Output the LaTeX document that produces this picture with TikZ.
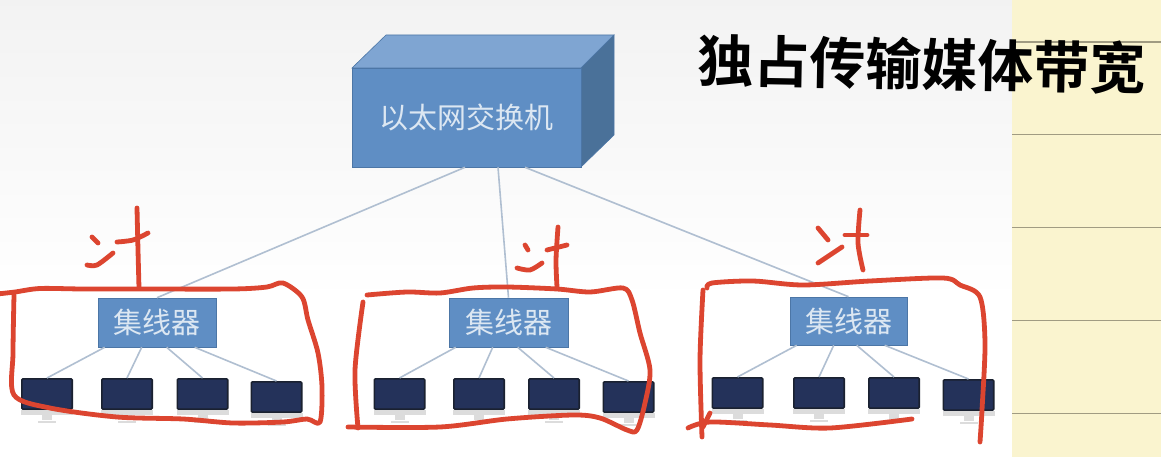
\documentclass[tikz,border=0pt]{standalone}
\usepackage{fontspec}
\setmainfont{Noto Sans CJK SC}
\newfontfamily\cjkbold[BoldFont={Noto Sans CJK SC}]{Noto Sans CJK SC Bold}
\usetikzlibrary{calc}
\definecolor{paperc}{HTML}{FAF4CF}
\definecolor{ruleline}{HTML}{A09B82}
\definecolor{redink}{HTML}{DC4530}
\definecolor{boxfront}{HTML}{5F8EC4}
\definecolor{boxtop}{HTML}{7FA5D2}
\definecolor{boxside}{HTML}{4A7199}
\definecolor{boxedge}{HTML}{4C76A6}
\definecolor{wire}{HTML}{B0BFD1}
\definecolor{screenc}{HTML}{24325A}
\definecolor{screenb}{HTML}{1A2130}
\definecolor{silverc}{HTML}{DCDCDC}
\definecolor{labelc}{HTML}{DCE7F2}
\tikzset{
  x=1pt,y=-1pt,
  hubbox/.style={draw=boxedge,line width=0.6pt,fill=boxfront,text=labelc,inner sep=0pt,font=\fontsize{29}{29}\selectfont},
  screenbox/.style={draw=screenb,line width=1.6pt,fill=screenc,rounded corners=1.2pt,minimum width=50.4pt,minimum height=30.4pt,inner sep=0pt,anchor=north west},
  wireline/.style={draw=wire,line width=1.6pt},
  redstroke/.style={draw=redink,line width=4.8pt,line cap=round,line join=round},
  rulestroke/.style={draw=ruleline,line width=1.2pt}
}
\newcommand{\monitorat}[3]{%
  \node[screenbox] (#1) at (#2,#3) {};
  \fill[silverc] (#1.south west) rectangle ([yshift=-5pt]#1.south east);
  \fill[silverc] ([xshift=-5pt,yshift=-5pt]#1.south) rectangle ([xshift=5pt,yshift=-10pt]#1.south);
  \fill[silverc] ([xshift=-9pt,yshift=-11pt]#1.south) rectangle ([xshift=9pt,yshift=-13pt]#1.south);
}
\newcommand{\redcurve}[1]{\draw[redstroke] plot[smooth,tension=0.5] coordinates {#1};}
\begin{document}
\begin{tikzpicture}
\useasboundingbox (0,0) rectangle (1161,457);
% backgrounds
\fill[white] (0,0) rectangle (1161,457);
\shade[top color=black!5,middle color=black!4,bottom color=white] (0,0) rectangle (1012,300);
\fill[paperc] (1012,0) rectangle (1161,457);
\foreach \yy in {42,134.7,227.5,320.5,413.5}{\draw[rulestroke] (1012,\yy) -- (1161,\yy);}
% switch
\fill[boxtop,draw=boxedge,line width=0.6pt] (352,68) -- (386,35) -- (614,35) -- (581,68) -- cycle;
\fill[boxside,draw=boxedge,line width=0.6pt] (581,68) -- (614,35) -- (614,135) -- (581,167) -- cycle;
\node[hubbox,minimum width=229pt,minimum height=99pt] (sw) at (466.5,117.5) {以太网交换机};
% hubs
\node[hubbox,minimum width=118pt,minimum height=49pt] (h1) at (157,322.5) {集线器};
\node[hubbox,minimum width=119pt,minimum height=49pt] (h2) at (508.5,322.5) {集线器};
\node[hubbox,minimum width=117pt,minimum height=48pt] (h3) at (848.5,321) {集线器};
% monitors
\monitorat{a1}{21}{378}\monitorat{a2}{101}{378}\monitorat{a3}{176.5}{378}\monitorat{a4}{250.5}{381}
\monitorat{b1}{373.5}{378}\monitorat{b2}{453}{378}\monitorat{b3}{528}{378}\monitorat{b4}{602.5}{381}
\monitorat{c1}{711.5}{377}\monitorat{c2}{793}{377}\monitorat{c3}{868}{377}\monitorat{c4}{942.5}{379}
% connectors
\draw[wireline] ([xshift=-1.5pt]sw.south) -- ([xshift=0pt]h1.north);
\draw[wireline] ([xshift=31.5pt]sw.south) -- (h2.north);
\draw[wireline] ([xshift=58.5pt]sw.south) -- (h3.north);
\foreach \h/\m/\d in {h1/a1/7,h1/a2/44,h1/a3/69,h1/a4/97,h2/b1/7,h2/b2/44,h2/b3/69,h2/b4/97,h3/c1/7,h3/c2/44,h3/c3/67,h3/c4/95}{
  \draw[wireline] ([xshift=\d pt]\h.south west) -- (\m.north);
}
% red outlines, group one
\redcurve{(-3,294) (15,292) (40,288.5) (83,289) (140,289) (233,289) (267,287) (283,283) (302,297) (308,320) (318,353) (322,387) (320,422) (307,419) (283,422) (233,423) (183,419) (117,417) (50,408) (14,395) (13,353) (14,295)}
\redcurve{(137,208) (138,250) (139,288)}
\redcurve{(92,237) (98,243)}
\redcurve{(87,265) (97,265) (113,253)}
\redcurve{(117,242) (133,240) (148,233)}
% group two
\redcurve{(367,295) (407,292) (440,293) (473,288) (507,287) (557,289) (590,292) (623,288) (632,300) (640,333) (650,370) (645,403) (637,430) (627,430) (600,418) (573,415) (507,419) (440,427) (348,427)}
\redcurve{(363,302) (355,370) (358,428)}
\redcurve{(558,227) (556,260) (557,287)}
\redcurve{(547,250) (567,245)}
\redcurve{(525,245) (528,250)}
\redcurve{(517,268) (530,270) (542,263)}
% group three
\redcurve{(707,288) (712,283) (753,281) (803,285) (870,281) (943,278) (960,285) (980,297) (985,343) (982,410) (980,442)}
\redcurve{(703,290) (700,360) (702,437)}
\redcurve{(710,413) (703,427)}
\redcurve{(688,428) (710,422) (770,425) (830,428) (912,419)}
\redcurve{(860,210) (858,243) (863,270)}
\redcurve{(845,235) (867,235)}
\redcurve{(818,228) (828,240)}
\redcurve{(818,263) (842,247)}
% handwriting
\node[font=\cjkbold\fontsize{56}{56}\selectfont,text=black,inner sep=0pt,rotate=-1] (note) at (922,64) {独占传输媒体带宽};
\end{tikzpicture}
\end{document}
